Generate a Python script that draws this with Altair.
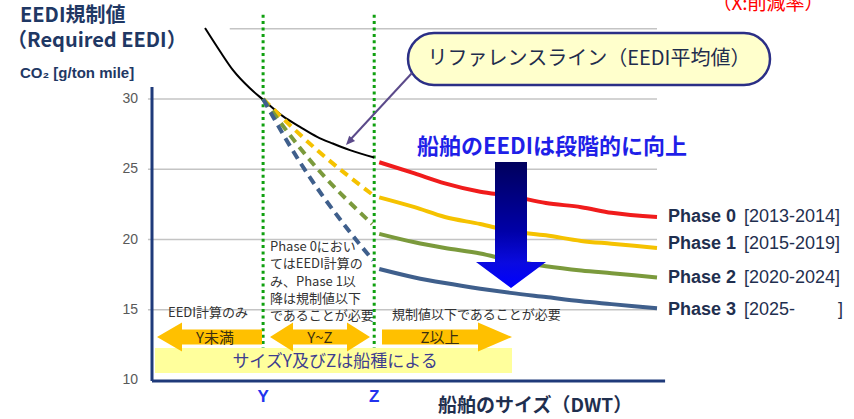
import altair as alt
import pandas as pd

# Reference line (average EEDI of existing ships) against ship size (arbitrary DWT units)
size_ref = [10.5, 13.5, 16.0, 19.4, 22.0, 25.9, 29.3, 32.7, 35.8, 39.2, 44.0]
eedi_ref = [35.05, 33.38, 32.07, 30.76, 29.95, 28.78, 28.02, 27.31, 26.83, 26.36, 25.84]

# Required EEDI for each phase, ships of size Z and above
size_phase = [45, 52, 58, 65, 71, 78, 85, 91, 100]
phase0 = [25.5, 24.7, 24.0, 23.4, 23.1, 22.6, 22.3, 21.9, 21.6]
phase1 = [23.0, 22.3, 21.6, 21.1, 20.6, 20.3, 19.9, 19.7, 19.4]
phase2 = [20.4, 19.8, 19.4, 19.0, 18.5, 18.1, 17.8, 17.6, 17.3]
phase3 = [17.9, 17.3, 16.9, 16.5, 16.2, 15.9, 15.6, 15.4, 15.1]

# Sliding requirement between sizes Y and Z (Phase 1 onwards)
size_y, size_z = 22.0, 44.0
ramp1_size, ramp1 = [22.0, 32.7, 44.0], [30.0, 26.36, 23.1]
ramp2_size, ramp2 = [22.0, 31.3, 43.6], [30.0, 25.64, 21.1]
ramp3_size, ramp3 = [22.0, 29.3, 38.6, 43.8], [30.0, 25.5, 20.8, 18.5]

phase_names = ["Phase 0", "Phase 1", "Phase 2", "Phase 3"]
phase_years = ["[2013-2014]", "[2015-2019]", "[2020-2024]", "[2025-"]
phase_colors = ["#f01c1c", "#f5c200", "#7b9a3c", "#3f5f8c"]

y_ticks = [30, 25, 20, 15, 10]
grid_vals = [35, 30, 25, 20, 15]
grid_start = [15.4, -0.8, -0.8, -0.8, -0.8]

JP = "Noto Sans CJK JP"
LAT = "Liberation Sans"
NAVY = "#1f3864"

X_SCALE = alt.Scale(domain=[0, 100], range=[152, 657], nice=False, zero=False)
Y_SCALE = alt.Scale(domain=[10, 30], range=[380, 99], nice=False, zero=False)


def xq(field):
    return alt.X(f"{field}:Q", scale=X_SCALE, axis=None)


def yq(field):
    return alt.Y(f"{field}:Q", scale=Y_SCALE, axis=None)


BLANK = alt.Data(values=[{}])


def note(txt, x, y, size, color, weight="normal", font=JP, align="left", **kw):
    return alt.Chart(BLANK).mark_text(
        text=txt, fontSize=size, font=font, fontWeight=weight, color=color,
        align=align, baseline="middle", **kw
    ).encode(x=alt.value(x), y=alt.value(y))


def glyph(path, x, y, fill):
    return alt.Chart(BLANK).mark_point(
        shape=path, size=4, filled=True, fill=fill, strokeWidth=0, opacity=1
    ).encode(x=alt.value(x), y=alt.value(y))


# --- data tables ---
ref_df = pd.DataFrame({"size": size_ref, "eedi": eedi_ref})
solid_df = pd.concat([
    pd.DataFrame({"phase": n, "size": size_phase, "eedi": v})
    for n, v in zip(phase_names, [phase0, phase1, phase2, phase3])
])
ramp_df = pd.concat([
    pd.DataFrame({"phase": n, "size": s, "eedi": v})
    for n, s, v in zip(phase_names[1:], [ramp1_size, ramp2_size, ramp3_size],
                       [ramp1, ramp2, ramp3])
])
grid_df = pd.DataFrame({"val": grid_vals, "start": grid_start, "end": [100] * 5})
tick_df = pd.DataFrame({"val": y_ticks, "lbl": [str(v) for v in y_ticks]})
yz_df = pd.DataFrame({"size": [size_y, size_z], "lbl": ["Y", "Z"],
                      "top": [36.0, 36.0], "bottom": [12.2, 12.2]})

phase_color = alt.Color("phase:N", scale=alt.Scale(domain=phase_names, range=phase_colors),
                        legend=None)

# --- layers ---
grid = alt.Chart(grid_df).mark_rule(color="#c4c4c4", strokeWidth=1.5).encode(
    y=yq("val"), x=xq("start"), x2="end:Q")

yz_lines = alt.Chart(yz_df).mark_rule(color="#10a010", strokeWidth=3, strokeDash=[3, 3.4]).encode(
    x=xq("size"), y=yq("top"), y2="bottom:Q")

ref_line = alt.Chart(ref_df).mark_line(color="#000000", strokeWidth=2, interpolate="monotone").encode(
    x=xq("size"), y=yq("eedi"))

ramps = alt.Chart(ramp_df).mark_line(strokeWidth=4, strokeDash=[9, 6], interpolate="monotone").encode(
    x=xq("size"), y=yq("eedi"), color=phase_color, detail="phase:N")

solids = alt.Chart(solid_df).mark_line(strokeWidth=4, interpolate="monotone").encode(
    x=xq("size"), y=yq("eedi"), color=phase_color, detail="phase:N")

axis_v = alt.Chart(pd.DataFrame({"x": [0], "top": [30.86], "bottom": [9.93]})).mark_rule(
    color="#1f3a7a", strokeWidth=3).encode(x=xq("x"), y=yq("top"), y2="bottom:Q")
axis_h = alt.Chart(pd.DataFrame({"y": [9.93], "x0": [0], "x1": [101.6]})).mark_rule(
    color="#1f3a7a", strokeWidth=3).encode(y=yq("y"), x=xq("x0"), x2="x1:Q")

tick_lbls = alt.Chart(tick_df).mark_text(
    font=LAT, fontSize=14, color="#595959", align="right", baseline="middle").encode(
    x=alt.value(138), y=yq("val"), text="lbl:N")

yz_lbls = alt.Chart(yz_df).mark_text(
    font=LAT, fontSize=17, fontWeight="bold", color="#2233ee", baseline="middle").encode(
    x=xq("size"), y=alt.value(397), text="lbl:N")

band = alt.Chart(BLANK).mark_rect(fill="#ffff9c").encode(
    x=alt.value(155), x2=alt.value(512), y=alt.value(348), y2=alt.value(373))

ORANGE = "#ffc000"
arrow_left = glyph("M -52.5 0 L -27.5 -14.5 L -27.5 -7.5 L 52.5 -7.5 L 52.5 7.5 "
                   "L -27.5 7.5 L -27.5 14.5 Z", 209.5, 337, ORANGE)
arrow_both = glyph("M -50 0 L -27 -14.5 L -27 -7.5 L 27 -7.5 L 27 -14.5 L 50 0 "
                   "L 27 14.5 L 27 7.5 L -27 7.5 L -27 14.5 Z", 320, 337, ORANGE)
arrow_right = glyph("M -65 -7.5 L 31 -7.5 L 31 -14.5 L 65 0 L 31 14.5 L 31 7.5 "
                    "L -65 7.5 Z", 447, 337, ORANGE)

big_arrow = alt.Chart(BLANK).mark_point(
    shape="M -16 -63 L 16 -63 L 16 37 L 35 37 L 0 63 L -35 37 L -16 37 Z",
    size=4, filled=True, strokeWidth=0, opacity=1,
    fill=alt.LinearGradient(
        gradient="linear", x1=0, y1=0, x2=0, y2=1,
        stops=[alt.GradientStop(offset=0, color="#00005c"),
               alt.GradientStop(offset=0.55, color="#0000a8"),
               alt.GradientStop(offset=0.8, color="#0a0ae0"),
               alt.GradientStop(offset=1, color="#0000ff")]),
).encode(x=alt.value(511), y=alt.value(225))

bubble = alt.Chart(BLANK).mark_rect(
    cornerRadius=26, fill="#ffffcc", stroke="#2b2f86", strokeWidth=2.5).encode(
    x=alt.value(408), x2=alt.value(770), y=alt.value(33), y2=alt.value(85))
leader = alt.Chart(BLANK).mark_rule(color="#5b4a8a", strokeWidth=2).encode(
    x=alt.value(412), y=alt.value(73), x2=alt.value(350), y2=alt.value(140))
leader_head = glyph("M 0 0 L 9.1 -3.9 L 3.2 -9.3 Z", 346, 145, "#5b4a8a")

texts = [
    note("EEDI規制値", 20, 16, 20, NAVY, "bold"),
    note("（Required EEDI）", 7, 41, 20, NAVY, "bold"),
    note("CO₂ [g/ton mile]", 20, 73, 15, NAVY, "bold", font=LAT),
    note("（X:削減率）", 768, 4, 19, "#ff0000", align="center"),
    note("リファレンスライン（EEDI平均値）", 589, 59, 20, "#1f2d4d", align="center"),
    note("船舶のEEDIは段階的に向上", 417, 147, 22, "#1f1fe8", "bold"),
    note("EEDI計算のみ", 208, 313, 13, "#333333", align="center"),
    alt.Chart(BLANK).mark_text(
        text=["Phase 0におい", "てはEEDI計算の", "み、Phase 1以", "降は規制値以下",
              "であることが必要"],
        fontSize=13, font=JP, color="#333333", align="left", baseline="middle",
        lineHeight=17.3).encode(x=alt.value(270), y=alt.value(247)),
    note("規制値以下であることが必要", 392, 315, 13, "#333333"),
    note("Y未満", 215, 338, 15, "#3a2f10", align="center"),
    note("Y~Z", 320, 338, 15, "#3a2f10", align="center"),
    note("Z以上", 440, 338, 15, "#3a2f10", align="center"),
    note("サイズY及びZは船種による", 335, 362, 17, "#3d3d8f", align="center"),
    note("船舶のサイズ（DWT）", 438, 406, 19, "#1f2f4f", "bold"),
]

label_y = [217, 244, 278, 310]
for name, years, ly in zip(phase_names, phase_years, label_y):
    texts.append(note(name, 668, ly, 18, "#1f2f4f", "bold", font=LAT))
    texts.append(note(years, 744, ly, 18, "#1f2f4f", font=LAT))
texts.append(note("]", 838, label_y[3], 18, "#1f2f4f", font=LAT))

layers = [grid, yz_lines, ref_line, ramps, solids, axis_v, axis_h, tick_lbls, yz_lbls,
          band, arrow_left, arrow_both, arrow_right, big_arrow, bubble, leader,
          leader_head] + texts

chart = alt.layer(*layers).properties(
    width=854, height=419, padding=0, background="white",
    autosize=alt.AutoSizeParams(type="none"),
).configure_view(stroke=None)

chart.save("out.html", embed_options={"renderer": "svg", "actions": False})
